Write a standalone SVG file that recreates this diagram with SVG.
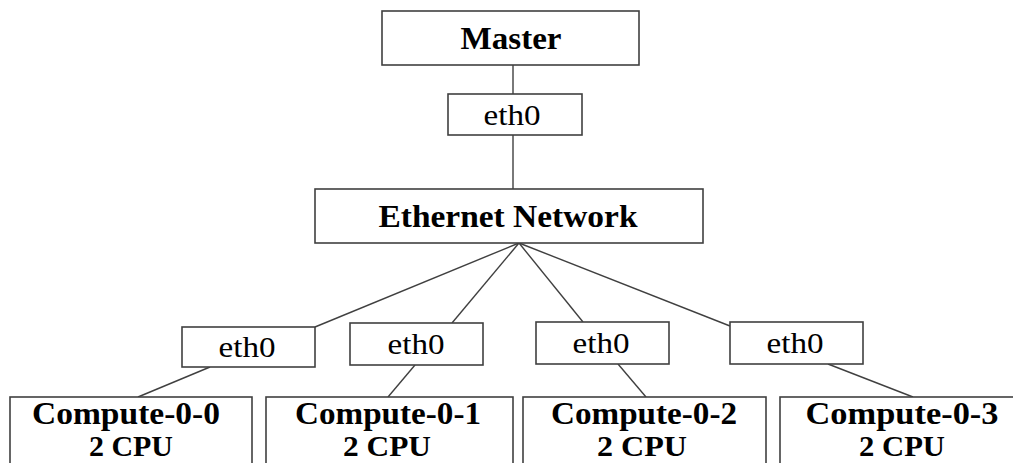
<svg xmlns="http://www.w3.org/2000/svg" width="1013" height="463" viewBox="0 0 1013 463">
<style>
.box{fill:#ffffff;stroke:#404040;stroke-width:1.6}
.lnk{stroke:#404040;stroke-width:1.4;fill:none}
.b{font-family:"Liberation Serif","Times New Roman",serif;font-weight:bold;fill:#000;text-anchor:middle}
.r{font-family:"Liberation Serif","Times New Roman",serif;fill:#000;text-anchor:middle}
</style>
<rect width="1013" height="463" fill="#ffffff"/>
<g id="connectors">
<line class="lnk" x1="513" y1="65" x2="513" y2="94"/>
<line class="lnk" x1="513" y1="135" x2="513" y2="189"/>
<line class="lnk" x1="519" y1="243" x2="315" y2="327"/>
<line class="lnk" x1="519" y1="243" x2="452" y2="323"/>
<line class="lnk" x1="519" y1="243" x2="583" y2="322"/>
<line class="lnk" x1="519" y1="243" x2="730" y2="326"/>
<line class="lnk" x1="210" y1="367" x2="138" y2="397"/>
<line class="lnk" x1="415" y1="365" x2="388" y2="397"/>
<line class="lnk" x1="618" y1="364" x2="646" y2="397"/>
<line class="lnk" x1="828" y1="364" x2="913" y2="397"/>
</g>
<g id="master">
<rect class="box" x="382" y="11" width="257" height="54"/>
<text class="b" x="511" y="49" font-size="32" textLength="101" lengthAdjust="spacingAndGlyphs">Master</text>
</g>
<g id="master-eth0">
<rect class="box" x="448" y="94" width="134" height="41"/>
<text class="r" x="512" y="125" font-size="29" textLength="57" lengthAdjust="spacingAndGlyphs">eth0</text>
</g>
<g id="ethernet">
<rect class="box" x="315" y="189" width="388" height="54"/>
<text class="b" x="508" y="227" font-size="32" textLength="259" lengthAdjust="spacingAndGlyphs">Ethernet Network</text>
</g>
<g id="eth0-0">
<rect class="box" x="182" y="327" width="133" height="40"/>
<text class="r" x="247" y="357" font-size="29" textLength="57" lengthAdjust="spacingAndGlyphs">eth0</text>
</g>
<g id="eth0-1">
<rect class="box" x="350" y="323" width="133" height="42"/>
<text class="r" x="416" y="354" font-size="29" textLength="57" lengthAdjust="spacingAndGlyphs">eth0</text>
</g>
<g id="eth0-2">
<rect class="box" x="536" y="322" width="133" height="42"/>
<text class="r" x="601" y="353" font-size="29" textLength="57" lengthAdjust="spacingAndGlyphs">eth0</text>
</g>
<g id="eth0-3">
<rect class="box" x="730" y="322" width="133" height="42"/>
<text class="r" x="795" y="353" font-size="29" textLength="57" lengthAdjust="spacingAndGlyphs">eth0</text>
</g>
<g id="compute-0-0">
<rect class="box" x="10" y="397" width="242" height="80"/>
<text class="b" x="126" y="424" font-size="31" textLength="188" lengthAdjust="spacingAndGlyphs">Compute-0-0</text>
<text class="b" x="131" y="456" font-size="30" textLength="84" lengthAdjust="spacingAndGlyphs">2 CPU</text>
</g>
<g id="compute-0-1">
<rect class="box" x="266" y="397" width="247" height="80"/>
<text class="b" x="388" y="424" font-size="31" textLength="186" lengthAdjust="spacingAndGlyphs">Compute-0-1</text>
<text class="b" x="387" y="456" font-size="30" textLength="88" lengthAdjust="spacingAndGlyphs">2 CPU</text>
</g>
<g id="compute-0-2">
<rect class="box" x="523" y="397" width="243" height="80"/>
<text class="b" x="644" y="424" font-size="31" textLength="186" lengthAdjust="spacingAndGlyphs">Compute-0-2</text>
<text class="b" x="642" y="456" font-size="30" textLength="90" lengthAdjust="spacingAndGlyphs">2 CPU</text>
</g>
<g id="compute-0-3">
<rect class="box" x="780" y="397" width="245" height="80"/>
<text class="b" x="902" y="424" font-size="31" textLength="193" lengthAdjust="spacingAndGlyphs">Compute-0-3</text>
<text class="b" x="902" y="456" font-size="30" textLength="86" lengthAdjust="spacingAndGlyphs">2 CPU</text>
</g>
</svg>
